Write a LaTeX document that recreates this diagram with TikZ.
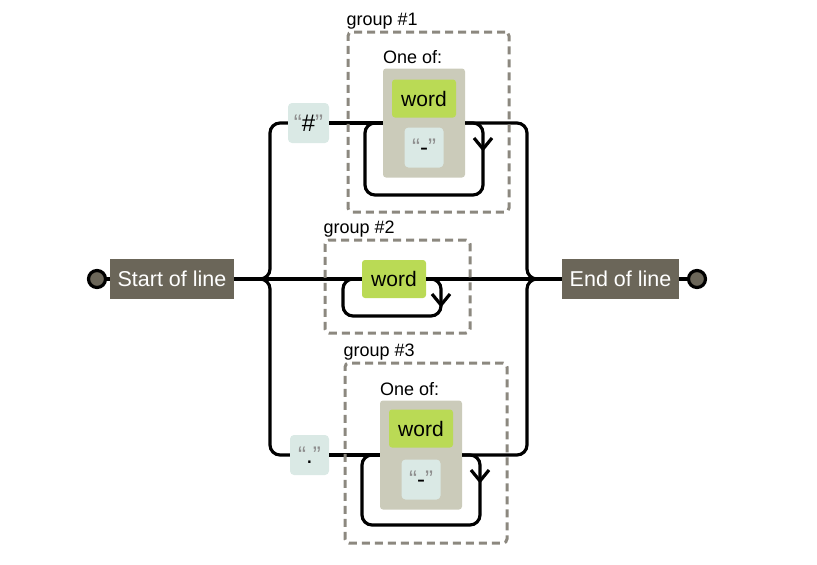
\documentclass[tikz,border=0pt]{standalone}
\usepackage{fontspec}
\setmainfont{Liberation Sans}
\usepackage{tikz}
\usetikzlibrary{positioning}
\definecolor{termFill}{HTML}{6B6659}
\definecolor{litFill}{HTML}{DAE9E5}
\definecolor{wordGreen}{HTML}{BADA55}
\definecolor{altGray}{HTML}{CBCBBA}
\definecolor{groupGray}{HTML}{8C887F}
\definecolor{quoteGray}{HTML}{8E8E8E}
\newcommand{\litq}[1]{\textcolor{quoteGray}{“}#1\textcolor{quoteGray}{”}}

\begin{document}
\begin{tikzpicture}[x=1pt,y=-1pt,
  rail/.style={line width=3.2pt,rounded corners=10pt},
  endpt/.style={circle,draw,line width=3.2pt,fill=termFill,minimum size=17pt,inner sep=0pt},
  term/.style={fill=termFill,text=white,minimum height=40pt,inner sep=0pt,font=\fontsize{21.5}{25}\selectfont},
  litbox/.style={fill=litFill,rounded corners=4pt,minimum width=41pt,minimum height=40pt,inner sep=0pt,font=\fontsize{24}{28}\selectfont},
  wordbox/.style={fill=wordGreen,rounded corners=3pt,minimum width=64pt,minimum height=38pt,inner sep=0pt,font=\fontsize{21}{25}\selectfont},
  altbox/.style={fill=altGray,rounded corners=3pt,minimum width=82pt,minimum height=109pt,inner sep=0pt},
  grpbox/.style={draw=groupGray,line width=3pt,dash pattern=on 8pt off 5pt,rounded corners=4pt,inner sep=0pt},
  lbl/.style={anchor=base west,inner sep=0pt,font=\fontsize{18}{21}\selectfont}]
\useasboundingbox (0,0) rectangle (817,565);
\node[endpt] (sc) at (97,279) {};
\node[term,minimum width=124pt] (start) at (172,279) {Start of line};
\node[term,minimum width=117pt] (end) at (620.5,279) {End of line};
\node[endpt] (ec) at (697,279) {};
\coordinate (splitL) at (258,279);
\coordinate (vL) at (270,279);
\coordinate (vR) at (527,279);
\coordinate (splitR) at (539,279);
\node[litbox] (hash) at (308.5,123) {\litq{\#}};
\node[altbox] (alt1) at (424,123) {};
\node[wordbox,below=11pt of alt1.north] (word1) {word};
\node[litbox,minimum width=39pt,above=10pt of alt1.south] (dash1) {\litq{-}};
\node[lbl] (alt1lbl) at ([yshift=5pt]alt1.north west) {One of:};
\node[wordbox] (word2) at (394,279) {word};
\node[litbox,minimum width=39pt] (dot) at (309.5,455) {\litq{.}};
\node[altbox] (alt3) at (421,455) {};
\node[wordbox,below=9pt of alt3.north] (word3) {word};
\node[litbox,minimum width=39pt,above=10pt of alt3.south] (dash3) {\litq{-}};
\node[lbl] (alt3lbl) at ([yshift=5pt]alt3.north west) {One of:};
\draw[rail] (sc) -- (start);
\draw[rail] (start) -- (word2);
\draw[rail] (word2) -- (end);
\draw[rail] (end) -- (ec);
\draw[rail] (splitL) -- (vL) |- (hash);
\draw[rail] (hash) -- (alt1);
\draw[rail] (alt1.east) -| (vR) -- (splitR);
\draw[rail] (splitL) -- (vL) |- (dot);
\draw[rail] (dot) -- (alt3);
\draw[rail] (alt3.east) -| (vR) -- (splitR);
\foreach \n/\xa/\xb/\ym/\yb in {alt1/365/483/123/195,word2/343/441/279/316,alt3/362/480/455/525}{
  \draw[rail] (\n.east) -| (\xb,\yb) -- (\xa,\yb) |- (\n.west);
  \draw[line width=3.2pt] (\xb-9,\ym+15) -- (\xb,\ym+26) -- (\xb+9,\ym+15);
}
\node[grpbox,minimum width=161pt,minimum height=180pt] (g1) at (428.5,122) {};
\node[lbl] (g1lbl) at ([yshift=5pt]g1.north west) {group \#1};
\node[grpbox,minimum width=145pt,minimum height=93pt] (g2) at (397.5,286.5) {};
\node[lbl] (g2lbl) at ([yshift=5pt]g2.north west) {group \#2};
\node[grpbox,minimum width=162pt,minimum height=180pt] (g3) at (426,453) {};
\node[lbl] (g3lbl) at ([yshift=5pt]g3.north west) {group \#3};
\end{tikzpicture}
\end{document}
